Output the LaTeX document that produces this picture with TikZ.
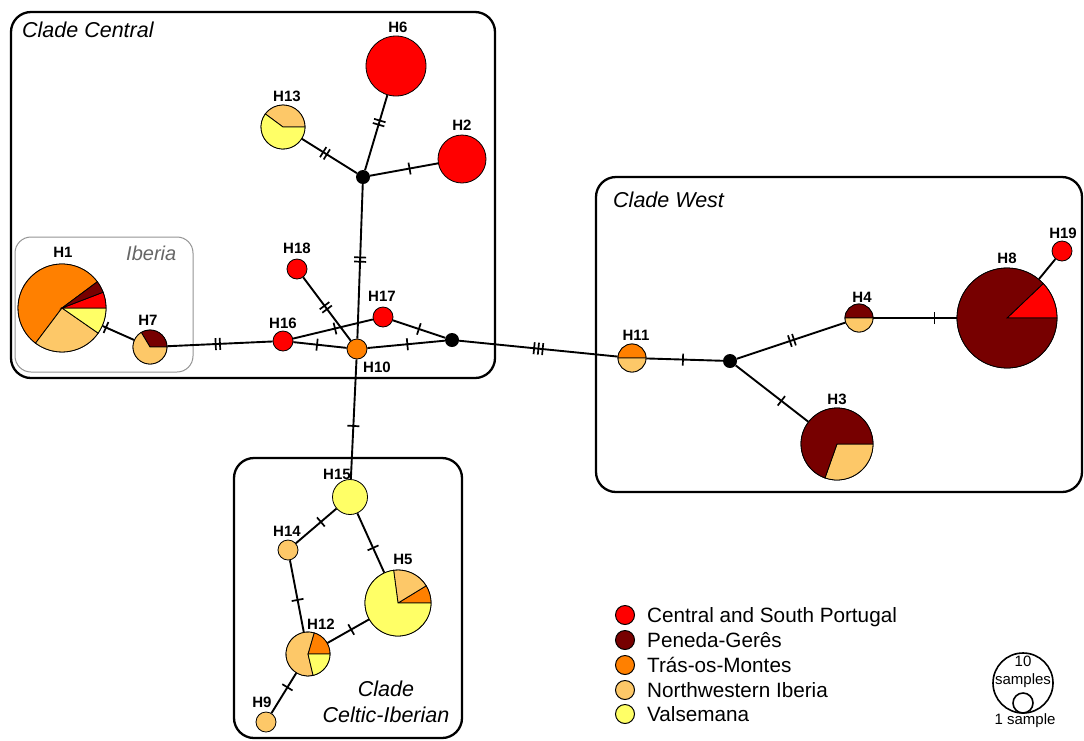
\documentclass[tikz,border=0pt]{standalone}
\usepackage{fontspec}
\setmainfont{Liberation Sans}
\definecolor{cRed}{HTML}{FF0000}
\definecolor{cDark}{HTML}{770000}
\definecolor{cOrange}{HTML}{FF8000}
\definecolor{cLight}{HTML}{FDC868}
\definecolor{cYellow}{HTML}{FFFF66}
\definecolor{cGray}{HTML}{666666}
\newcommand{\tkone}{\rule{1.7pt}{12pt}}
\newcommand{\tktwo}{\rule{1.7pt}{12pt}\hspace{2.6pt}\rule{1.7pt}{12pt}}
\newcommand{\tkthree}{\rule{1.7pt}{12pt}\hspace{2.6pt}\rule{1.7pt}{12pt}\hspace{2.6pt}\rule{1.7pt}{12pt}}
\newcommand{\hapslice}[5]{\filldraw[fill=#5, draw=black, line width=0.8pt] (#1.center) -- ++(#3:#2) arc[start angle=#3, end angle=#4, radius=#2] -- cycle;}
\newcommand{\hlink}[5]{\draw[edge] (#1) -- (#2); \path (#1.center) -- (#2.center) node[tk, pos=#3] (#4) {#5};}
\begin{document}
\begin{tikzpicture}[x=1pt,y=-1pt,
  hap/.style={circle, draw=black, line width=0.8pt, inner sep=0pt, minimum size=#1},
  dotnode/.style={circle, fill=black, inner sep=0pt, minimum size=14pt},
  edge/.style={line width=1.9pt},
  tk/.style={sloped, inner sep=0pt, outer sep=0pt, anchor=center},
  lbl/.style={inner sep=0pt, font=\fontsize{15}{18}\selectfont\bfseries},
  clade/.style={inner sep=0pt, font=\fontsize{21.5}{25}\selectfont\itshape},
  cbox/.style={draw=black, line width=2.3pt, rounded corners=20pt},
  lgc/.style={circle, draw=black, line width=1pt, inner sep=0pt, minimum size=19pt},
  lgt/.style={inner sep=0pt, anchor=base west, font=\fontsize{20.7}{24}\selectfont},
  sct/.style={inner sep=0pt, anchor=base, font=\fontsize{15}{18}\selectfont}]
\useasboundingbox (0,0) rectangle (1084,740);

% clade boxes
\draw[cbox] (11,12) rectangle (495,378);
\draw[cbox] (596,177) rectangle (1082,492);
\draw[cbox] (234,458) rectangle (462,738);
\draw[draw=cGray!70, line width=1pt, rounded corners=16pt] (15,237) rectangle (193,372);

% clade labels
\node[clade, anchor=base west] (lCentral) at (22,37) {Clade Central};
\node[clade, anchor=base west] (lWest) at (613,207) {Clade West};
\node[clade, anchor=base] (lCeltA) at (386,696) {Clade};
\node[clade, anchor=base] (lCeltB) at (386,722) {Celtic-Iberian};
\node[inner sep=0pt, anchor=base west, text=cGray, font=\fontsize{20}{24}\selectfont\itshape] (lIberia) at (126,260) {Iberia};

% haplotype nodes
\node[hap=88pt, fill=cOrange] (H1) at (62,308) {};
\node[hap=34pt, fill=cLight] (H7) at (150,347) {};
\node[hap=20pt, fill=cRed] (H16) at (283,341) {};
\node[hap=20pt, fill=cRed] (H18) at (297,269) {};
\node[hap=20pt, fill=cRed] (H17) at (383,317) {};
\node[hap=20pt, fill=cOrange] (H10) at (357,349) {};
\node[dotnode] (M1) at (452,340) {};
\node[dotnode] (M2) at (363,177) {};
\node[hap=60pt, fill=cRed] (H6) at (396,66) {};
\node[hap=44pt, fill=cYellow] (H13) at (283,127) {};
\node[hap=48pt, fill=cRed] (H2) at (462,159) {};
\node[hap=100pt, fill=cDark] (H8) at (1007,318) {};
\node[hap=20pt, fill=cRed] (H19) at (1062,251) {};
\node[hap=28pt, fill=cLight] (H4) at (859,318) {};
\node[hap=72pt, fill=cDark] (H3) at (837,444) {};
\node[hap=28pt, fill=cLight] (H11) at (632,358) {};
\node[dotnode] (M3) at (730,361) {};
\node[hap=35pt, fill=cYellow] (H15) at (350,497) {};
\node[hap=20pt, fill=cLight] (H14) at (288,550) {};
\node[hap=66pt, fill=cYellow] (H5) at (398,603) {};
\node[hap=44pt, fill=cLight] (H12) at (308,654) {};
\node[hap=20pt, fill=cLight] (H9) at (266,722) {};

% pie slices
\hapslice{H1}{44pt}{36.6}{233}{cOrange}
\hapslice{H1}{44pt}{233}{325.2}{cLight}
\hapslice{H1}{44pt}{-34.8}{0}{cYellow}
\hapslice{H1}{44pt}{0}{21}{cRed}
\hapslice{H1}{44pt}{21}{36.6}{cDark}
\hapslice{H7}{17pt}{0}{121}{cDark}
\hapslice{H7}{17pt}{121}{360}{cLight}
\hapslice{H13}{22pt}{0}{143.5}{cLight}
\hapslice{H13}{22pt}{143.5}{360}{cYellow}
\hapslice{H8}{50pt}{0}{43.6}{cRed}
\hapslice{H8}{50pt}{43.6}{360}{cDark}
\hapslice{H4}{14pt}{0}{180}{cDark}
\hapslice{H4}{14pt}{180}{360}{cLight}
\hapslice{H11}{14pt}{0}{180}{cOrange}
\hapslice{H11}{14pt}{180}{360}{cLight}
\hapslice{H3}{36pt}{-109.5}{0}{cLight}
\hapslice{H3}{36pt}{0}{250.5}{cDark}
\hapslice{H5}{33pt}{0}{31.4}{cOrange}
\hapslice{H5}{33pt}{31.4}{97.6}{cLight}
\hapslice{H5}{33pt}{97.6}{360}{cYellow}
\hapslice{H12}{22pt}{0}{73.8}{cOrange}
\hapslice{H12}{22pt}{73.8}{283.4}{cLight}
\hapslice{H12}{22pt}{283.4}{360}{cYellow}

% edges with mutation ticks
\hlink{H1}{H7}{0.5}{t1}{\tkone}
\hlink{H7}{H16}{0.51}{t2}{\tktwo}
\hlink{H16}{H10}{0.46}{t3}{\tkone}
\hlink{H16}{H17}{0.52}{t4}{\tkone}
\hlink{H18}{H10}{0.48}{t5}{\tktwo}
\hlink{H10}{M2}{0.52}{t6}{\tktwo}
\hlink{H10}{M1}{0.53}{t7}{\tkone}
\hlink{H17}{M1}{0.52}{t8}{\tkone}
\hlink{M2}{H13}{0.475}{t9}{\tktwo}
\hlink{M2}{H6}{0.49}{t10}{\tktwo}
\hlink{M2}{H2}{0.47}{t11}{\tkone}
\hlink{H10}{H15}{0.52}{t12}{\tkone}
\hlink{M1}{H11}{0.48}{t13}{\tkthree}
\hlink{H11}{M3}{0.52}{t14}{\tkone}
\hlink{M3}{H4}{0.48}{t15}{\tktwo}
\hlink{M3}{H3}{0.48}{t16}{\tkone}
\hlink{H4}{H8}{0.51}{t17}{\tkone}
\draw[edge] (H8) -- (H19);
\hlink{H15}{H14}{0.47}{t19}{\tkone}
\hlink{H15}{H5}{0.48}{t20}{\tkone}
\hlink{H14}{H12}{0.48}{t21}{\tkone}
\hlink{H12}{H5}{0.48}{t22}{\tkone}
\hlink{H12}{H9}{0.49}{t23}{\tkone}

% haplotype labels
\node[lbl] (lH1) at (63,252) {H1};
\node[lbl] (lH7) at (148,320) {H7};
\node[lbl] (lH16) at (283,323) {H16};
\node[lbl] (lH18) at (297,248) {H18};
\node[lbl] (lH17) at (382,296) {H17};
\node[lbl] (lH10) at (377,367) {H10};
\node[lbl] (lH6) at (398,27) {H6};
\node[lbl] (lH13) at (287,96) {H13};
\node[lbl] (lH2) at (462,125) {H2};
\node[lbl] (lH8) at (1007,258) {H8};
\node[lbl] (lH19) at (1063,233) {H19};
\node[lbl] (lH4) at (862,297) {H4};
\node[lbl] (lH3) at (837,399) {H3};
\node[lbl] (lH11) at (636,335) {H11};
\node[lbl] (lH15) at (337,474) {H15};
\node[lbl] (lH14) at (287,531) {H14};
\node[lbl] (lH5) at (403,559) {H5};
\node[lbl] (lH12) at (321,624) {H12};
\node[lbl] (lH9) at (262,702) {H9};

% legend
\node[lgc, fill=cRed] (k1) at (625,615) {};
\node[lgc, fill=cDark] (k2) at (625,640) {};
\node[lgc, fill=cOrange] (k3) at (625,665) {};
\node[lgc, fill=cLight] (k4) at (625,690) {};
\node[lgc, fill=cYellow] (k5) at (625,714) {};
\node[lgt] (k1t) at (647,622) {Central and South Portugal};
\node[lgt] (k2t) at (647,647) {Peneda-Gerês};
\node[lgt] (k3t) at (647,672) {Trás-os-Montes};
\node[lgt] (k4t) at (647,697) {Northwestern Iberia};
\node[lgt] (k5t) at (647,721) {Valsemana};

% size scale
\node[circle, draw=black, line width=1.6pt, inner sep=0pt, minimum size=60pt] (s10) at (1023,683) {};
\node[circle, draw=black, line width=1.6pt, inner sep=0pt, minimum size=20pt] (s1) at (1023,703) {};
\node[sct] (s10a) at (1023,666) {10};
\node[sct] (s10b) at (1023,684) {samples};
\node[sct] (s1t) at (1025,724) {1 sample};
\end{tikzpicture}
\end{document}
